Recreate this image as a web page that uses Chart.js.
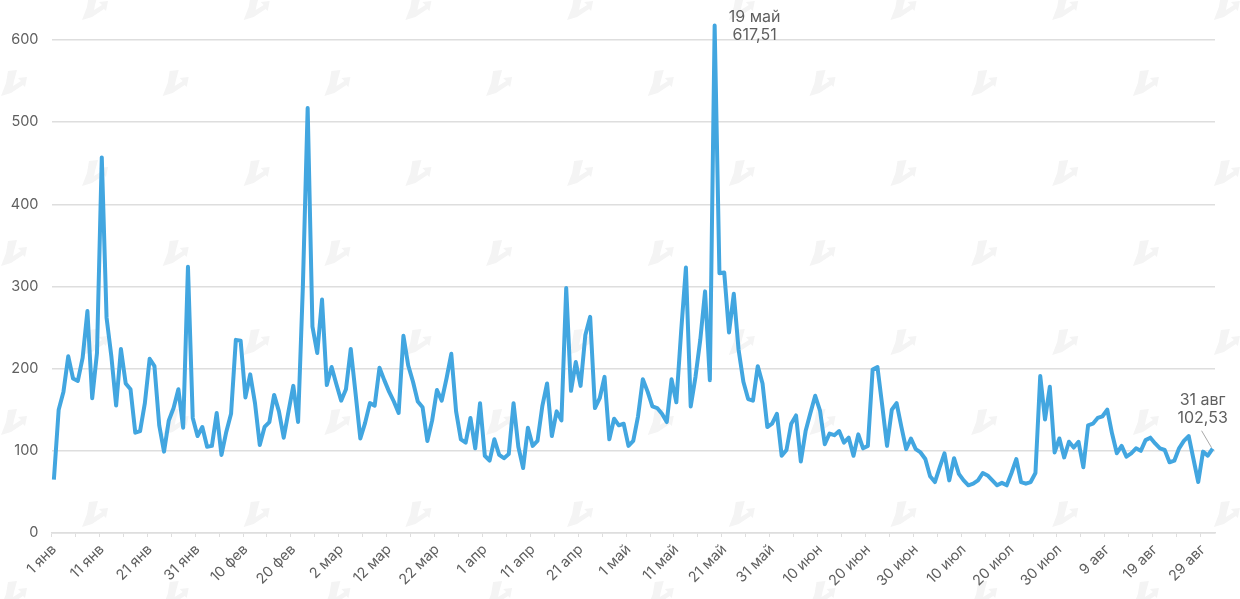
<!DOCTYPE html>
<html>
<head>
<meta charset="utf-8">
<title>chart</title>
<script src="https://cdn.jsdelivr.net/npm/chart.js@4/dist/chart.umd.js"></script>
<style>
    html, body { margin: 0; padding: 0; background: #fff; }
    #box { width: 1240px; height: 599px; }
</style>
</head>
<body>
<div id="box"><canvas id="chart"></canvas></div>
<script>
// Месяцы оси X
const monthNames = ['янв', 'фев', 'мар', 'апр', 'май', 'июн', 'июл', 'авг'];
const monthDays = [31, 28, 31, 30, 31, 30, 31, 31];
const yTicks = [0, 100, 200, 300, 400, 500, 600];

// Значения по дням
const janValues = [65, 150, 172, 215, 188, 185, 213, 270, 164, 219, 457, 262, 215, 155, 224, 182, 175, 122, 124, 158, 212, 203, 131, 99, 137, 152, 175, 128, 324, 140, 118];
const febValues = [129, 105, 106, 146, 95, 123, 145, 235, 234, 165, 193, 158, 107, 129, 135, 168, 148, 116, 148, 179, 135, 300, 517, 251, 219, 284, 180, 202];
const marValues = [181, 161, 175, 224, 170, 115, 134, 158, 155, 201, 186, 172, 160, 146, 240, 204, 184, 160, 153, 112, 137, 174, 161, 188, 218, 148, 114, 110, 140, 103, 158];
const aprValues = [94, 88, 114, 95, 91, 96, 158, 105, 79, 128, 106, 112, 154, 182, 118, 148, 137, 298, 173, 208, 179, 241, 263, 152, 164, 190, 114, 139, 131, 133];
const mayValues = [106, 112, 142, 187, 172, 154, 152, 145, 135, 187, 159, 245, 323, 154, 190, 235, 294, 186, 617.51, 316, 317, 244, 291, 223, 184, 163, 161, 203, 182, 129, 133];
const junValues = [145, 94, 101, 133, 143, 87, 124, 146, 167, 149, 108, 121, 119, 124, 110, 116, 94, 120, 103, 106, 199, 202, 155, 106, 150, 158, 129, 102, 115, 102];
const julValues = [98, 90, 69, 62, 80, 97, 64, 91, 72, 64, 58, 60, 64, 73, 70, 64, 58, 61, 58, 73, 90, 62, 60, 62, 73, 191, 138, 178, 98, 115, 92];
const augValues = [111, 104, 111, 80, 131, 133, 140, 142, 150, 121, 97, 106, 93, 97, 103, 100, 113, 116, 109, 103, 101, 86, 88, 103, 112, 118, 90, 62, 99, 94, 102.53];

const monthValues = [janValues, febValues, marValues, aprValues, mayValues, junValues, julValues, augValues];
const values = monthValues.flat();

const categories = [];
monthNames.forEach((name, m) => {
    for (let d = 1; d <= monthDays[m]; d++) {
        categories.push(d + ' ' + name);
    }
});

// Подписи к точкам
const notes = [
    { index: 138, lines: ['19 май', '617,51'], dx: 40, dy: [-8, 10] },
    { index: 242, lines: ['31 авг', '102,53'], dx: -10, dy: [-49, -31], leader: true }
];

const textColor = '#5f5f5f';
const gridColor = '#dedede';
const font = 'Inter, "Liberation Sans", sans-serif';

// Водяной знак
const markRows = [8, 84, 174, 254, 343, 423, 515, 595];
const markShape = [[-13, 12], [-8, -1], [-6, -13], [3, -14], [0, -3], [-1, 2], [7, -3], [4, -6], [13, -7], [11, 3], [9, 1], [-3, 9]];

const watermarkPlugin = {
    id: 'watermark',
    beforeDraw(chart) {
        const ctx = chart.ctx;
        ctx.save();
        ctx.fillStyle = '#f4f4f4';
        markRows.forEach((y, row) => {
            const startX = row % 2 === 0 ? 95 : 14;
            for (let x = startX; x < 1260; x += 161.7) {
                ctx.beginPath();
                markShape.forEach(p => ctx.lineTo(x + p[0], y + p[1]));
                ctx.closePath();
                ctx.fill();
            }
        });
        ctx.restore();
    }
};

// Подписи и выноска
const notesPlugin = {
    id: 'notes',
    afterDatasetsDraw(chart) {
        const ctx = chart.ctx;
        const xScale = chart.scales.x;
        const yScale = chart.scales.y;
        ctx.save();
        ctx.fillStyle = textColor;
        ctx.font = '16px ' + font;
        ctx.textAlign = 'center';
        ctx.textBaseline = 'middle';
        notes.forEach(note => {
            const px = xScale.getPixelForValue(note.index);
            const py = yScale.getPixelForValue(values[note.index]);
            note.lines.forEach((line, i) => {
                ctx.fillText(line, px + note.dx, py + note.dy[i]);
            });
            if (note.leader) {
                ctx.strokeStyle = '#a8a8a8';
                ctx.lineWidth = 1;
                ctx.beginPath();
                ctx.moveTo(px - 11, py - 18);
                ctx.lineTo(px - 1, py - 1);
                ctx.stroke();
            }
        });
        ctx.restore();
    }
};

new Chart(document.getElementById('chart'), {
    type: 'line',
    data: {
        labels: categories,
        datasets: [{
            data: values,
            borderColor: '#42a6e0',
            borderWidth: 4,
            borderJoinStyle: 'round',
            pointRadius: 0,
            tension: 0,
            clip: false
        }]
    },
    options: {
        responsive: true,
        maintainAspectRatio: false,
        animation: false,
        layout: { padding: { top: 7, right: 25, bottom: 0, left: 0 } },
        plugins: { legend: { display: false }, tooltip: { enabled: false } },
        scales: {
            x: {
                type: 'category',
                offset: true,
                afterFit: scale => { scale.height = 66; },
                border: { color: gridColor, width: 1.5 },
                grid: {
                    offset: true,
                    drawOnChartArea: false,
                    tickLength: 4,
                    tickWidth: 1,
                    tickColor: c => (c.index % 5 === 0 ? gridColor : 'transparent')
                },
                ticks: {
                    autoSkip: false,
                    maxRotation: 45,
                    minRotation: 45,
                    padding: 4,
                    color: textColor,
                    font: { family: font, size: 14.5 },
                    callback(value, index) {
                        return index % 10 === 0 ? categories[index] : '';
                    }
                }
            },
            y: {
                min: 0,
                max: 640,
                afterFit: scale => {
                    scale.width = 51.5;
                    scale.paddingTop = 0;
                    scale.paddingBottom = 0;
                },
                afterBuildTicks: scale => { scale.ticks = yTicks.map(v => ({ value: v })); },
                border: { display: false },
                grid: { color: gridColor, lineWidth: 1.5, drawTicks: false },
                ticks: {
                    padding: 13,
                    color: textColor,
                    font: { family: font, size: 14.5 }
                }
            }
        }
    },
    plugins: [watermarkPlugin, notesPlugin]
});
</script>
</body>
</html>
